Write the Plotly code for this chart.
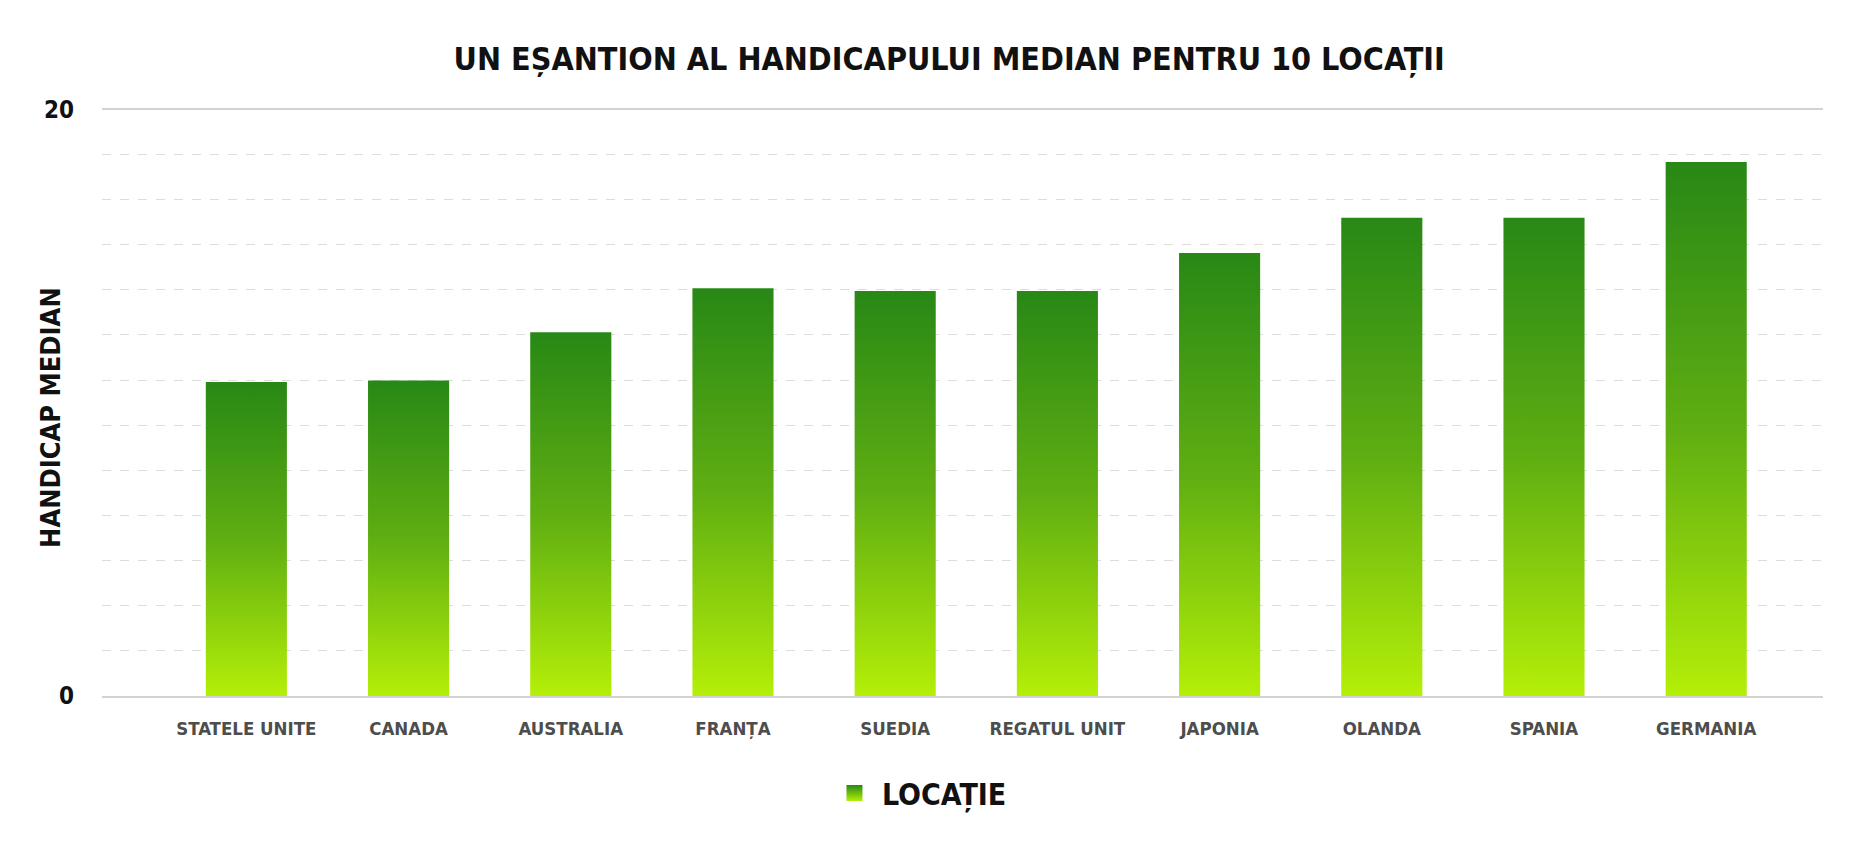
import plotly.graph_objects as go

# date
locatii = ["STATELE UNITE", "CANADA", "AUSTRALIA", "FRANȚA", "SUEDIA",
           "REGATUL UNIT", "JAPONIA", "OLANDA", "SPANIA", "GERMANIA"]
handicap = [10.7, 10.75, 12.4, 13.9, 13.8, 13.8, 15.1, 16.3, 16.3, 18.2]
y_ticks = [0, 20]
legenda = "LOCAȚIE"

FONT = "Liberation Sans Narrow, DejaVu Sans Condensed, Arial Narrow, sans-serif"
verde = [[0, "#b4ef08"], [0.5, "#5fae12"], [1, "#288816"]]
half = 0.25  # jumatate din latimea barei

fig = go.Figure()

# fiecare bara e un dreptunghi umplut cu gradient vertical
for i, (loc, val) in enumerate(zip(locatii, handicap)):
    fig.add_trace(go.Scatter(
        x=[i - half, i + half, i + half, i - half, i - half],
        y=[0, 0, val, val, 0],
        mode="lines",
        line=dict(width=0, color="#288816"),
        fill="toself",
        fillgradient=dict(type="vertical", colorscale=verde),
        hoveron="fills",
        name=f"{loc}: {val}",
        showlegend=False,
    ))

# doar pentru legenda
fig.add_trace(go.Scatter(
    x=[None], y=[None], mode="markers", name=legenda,
    marker=dict(symbol="square", size=16, color="#288816",
                gradient=dict(type="vertical", color="#b4ef08")),
))

fig.update_layout(
    width=1860, height=846,
    margin=dict(l=94, r=45, t=100, b=158),
    paper_bgcolor="white",
    plot_bgcolor="white",
    title=dict(text="UN EȘANTION AL HANDICAPULUI MEDIAN PENTRU 10 LOCAȚII",
               x=0.506, xanchor="center", y=0.94, yanchor="middle",
               font=dict(family=FONT, size=32, color="#111111", weight="bold")),
    xaxis=dict(range=[-0.89, 9.72], tickvals=list(range(len(locatii))),
               ticktext=locatii, showgrid=False, zeroline=False,
               showline=True, linecolor="#d3d3d3", linewidth=2, ticks="",
               tickfont=dict(family=FONT, size=18.5, color="#4d4d4d", weight="bold"),
               ticklabelstandoff=15),
    yaxis=dict(range=[0, 20.04], tickvals=y_ticks, showgrid=True,
               gridcolor="#d3d3d3", gridwidth=1.5, zeroline=False, ticks="",
               minor=dict(tick0=0, dtick=20 / 13, showgrid=True,
                          gridcolor="#dcdcdc", griddash="dash", gridwidth=1),
               tickfont=dict(family=FONT, size=24, color="#111111", weight="bold"),
               ticklabelstandoff=27),
    legend=dict(orientation="h", x=0.475, xanchor="center", y=-0.165,
                yanchor="middle", itemwidth=45,
                font=dict(family=FONT, size=30, color="#111111", weight="bold")),
    annotations=[dict(text="HANDICAP MEDIAN", textangle=-90, showarrow=False,
                      xref="paper", yref="paper", x=-0.0296, y=0.473,
                      xanchor="center", yanchor="middle",
                      font=dict(family=FONT, size=27, color="#111111", weight="bold"))],
)

fig.write_html("out.html")
